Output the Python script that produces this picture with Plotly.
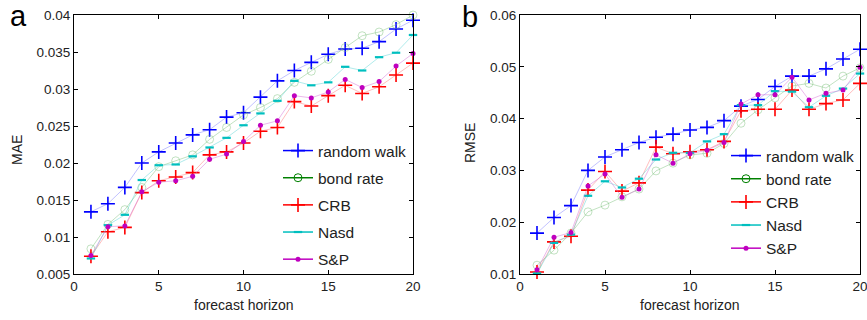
import plotly.graph_objects as go

horizon = list(range(1, 21))
series_names = ["random walk", "bond rate", "CRB", "Nasd", "S&P"]

mae_rw = [0.0134, 0.0145, 0.0167, 0.0200, 0.0215, 0.0227, 0.0238, 0.0245, 0.0262, 0.0268,
          0.0289, 0.0311, 0.0325, 0.0336, 0.0347, 0.0354, 0.0355, 0.0364, 0.0381, 0.0393]
mae_bond = [0.0084, 0.0117, 0.0137, 0.0167, 0.0195, 0.0203, 0.0211, 0.0232, 0.0248, 0.0265,
            0.0275, 0.0287, 0.0309, 0.0324, 0.0340, 0.0356, 0.0372, 0.0377, 0.0387, 0.0400]
mae_crb = [0.0074, 0.0107, 0.0113, 0.0160, 0.0176, 0.0181, 0.0187, 0.0211, 0.0215, 0.0227,
           0.0243, 0.0248, 0.0283, 0.0277, 0.0291, 0.0305, 0.0294, 0.0303, 0.0319, 0.0335]
mae_nasd = [0.0071, 0.0116, 0.0130, 0.0177, 0.0197, 0.0198, 0.0209, 0.0221, 0.0234, 0.0251,
            0.0267, 0.0284, 0.0311, 0.0305, 0.0309, 0.0330, 0.0325, 0.0343, 0.0349, 0.0373]
mae_sp = [0.0075, 0.0114, 0.0115, 0.0161, 0.0174, 0.0176, 0.0182, 0.0205, 0.0212, 0.0229,
          0.0251, 0.0257, 0.0291, 0.0288, 0.0296, 0.0313, 0.0302, 0.0310, 0.0331, 0.0348]

rmse_rw = [0.0179, 0.0209, 0.0232, 0.0300, 0.0326, 0.0340, 0.0354, 0.0364, 0.0370, 0.0378,
           0.0383, 0.0396, 0.0424, 0.0437, 0.0462, 0.0482, 0.0482, 0.0496, 0.0515, 0.0534]
rmse_bond = [0.0117, 0.0146, 0.0179, 0.0220, 0.0233, 0.0249, 0.0264, 0.0299, 0.0314, 0.0330,
             0.0333, 0.0352, 0.0391, 0.0417, 0.0440, 0.0463, 0.0468, 0.0459, 0.0482, 0.0498]
rmse_crb = [0.0104, 0.0162, 0.0173, 0.0262, 0.0298, 0.0260, 0.0276, 0.0345, 0.0332, 0.0336,
            0.0340, 0.0356, 0.0415, 0.0418, 0.0418, 0.0455, 0.0418, 0.0429, 0.0436, 0.0468]
rmse_nasd = [0.0101, 0.0160, 0.0176, 0.0251, 0.0279, 0.0267, 0.0284, 0.0321, 0.0334, 0.0334,
             0.0356, 0.0370, 0.0426, 0.0426, 0.0453, 0.0452, 0.0422, 0.0444, 0.0458, 0.0487]
rmse_sp = [0.0108, 0.0171, 0.0180, 0.0270, 0.0293, 0.0248, 0.0264, 0.0330, 0.0314, 0.0332,
           0.0339, 0.0354, 0.0428, 0.0446, 0.0446, 0.0480, 0.0436, 0.0449, 0.0455, 0.0499]

x_ticks = [0, 5, 10, 15, 20]
mae_ticks = [0.005, 0.01, 0.015, 0.02, 0.025, 0.03, 0.035, 0.04]
mae_ticktext = ["0.005", "0.01", "0.015", "0.02", "0.025", "0.03", "0.035", "0.04"]
rmse_ticks = [0.01, 0.02, 0.03, 0.04, 0.05, 0.06]
rmse_ticktext = ["0.01", "0.02", "0.03", "0.04", "0.05", "0.06"]

FONT = "Liberation Sans, Arial"

styles = [
    dict(line="rgba(120,120,255,0.45)", leg_line="rgb(0,0,255)",
         marker=dict(symbol="cross-thin", size=10, line=dict(color="rgb(0,0,255)", width=1.6))),
    dict(line="rgba(120,190,120,0.45)", leg_line="rgb(0,128,0)",
         marker=dict(symbol="circle-open", size=8, line=dict(color="rgba(120,190,120,0.8)", width=1))),
    dict(line="rgba(255,110,110,0.45)", leg_line="rgb(255,0,0)",
         marker=dict(symbol="cross-thin", size=10, line=dict(color="rgb(255,0,0)", width=1.6))),
    dict(line="rgba(80,210,210,0.45)", leg_line="rgb(0,191,191)",
         marker=dict(symbol="line-ew", size=6, line=dict(color="rgb(0,191,191)", width=2.2))),
    dict(line="rgba(210,100,210,0.45)", leg_line="rgb(191,0,191)",
         marker=dict(symbol="circle", size=5, color="rgb(191,0,191)", line=dict(width=0))),
]

fig = go.Figure()

panels = [
    ("x", "y", "legend", [mae_rw, mae_bond, mae_crb, mae_nasd, mae_sp]),
    ("x2", "y2", "legend2", [rmse_rw, rmse_bond, rmse_crb, rmse_nasd, rmse_sp]),
]

for xa, ya, leg, data in panels:
    for i, (name, vals) in enumerate(zip(series_names, data)):
        st = styles[i]
        fig.add_trace(go.Scatter(
            x=horizon, y=vals, mode="lines+markers", name=name,
            xaxis=xa, yaxis=ya, showlegend=False, cliponaxis=False,
            line=dict(color=st["line"], width=1),
            marker=st["marker"],
        ))
    for i, name in enumerate(series_names):
        st = styles[i]
        fig.add_trace(go.Scatter(
            x=[None], y=[None], mode="lines+markers", name=name,
            xaxis=xa, yaxis=ya, legend=leg, legendgroup=leg + str(i),
            line=dict(color=st["leg_line"], width=1.5),
            marker=st["marker"],
        ))

axis_common = dict(
    showgrid=False, zeroline=False, showline=True, linecolor="black", linewidth=1,
    mirror="ticks", ticks="inside", ticklen=4, tickcolor="black",
    tickfont=dict(family=FONT, size=13.5, color="#222"),
    automargin=False, ticklabeloverflow="allow",
)
title_font = dict(family=FONT, size=14, color="#222")


def ann(text, x, y, **kw):
    return dict(text=text, x=x / 867, y=1 - y / 320, xref="paper", yref="paper",
                showarrow=False, xanchor="center", yanchor="middle", **kw)


fig.update_layout(
    width=867, height=320,
    margin=dict(l=0, r=0, t=0, b=0),
    paper_bgcolor="white", plot_bgcolor="white",
    xaxis=dict(domain=[74 / 867, 413 / 867], range=[0, 20], tickvals=x_ticks, **axis_common),
    yaxis=dict(domain=[46 / 320, 305 / 320], range=[0.005, 0.04], tickvals=mae_ticks,
               ticktext=mae_ticktext, **axis_common),
    xaxis2=dict(domain=[520 / 867, 860 / 867], range=[0, 20], tickvals=x_ticks, anchor="y2",
                **axis_common),
    yaxis2=dict(domain=[46 / 320, 305 / 320], range=[0.01, 0.06], tickvals=rmse_ticks,
                ticktext=rmse_ticktext, anchor="x2", **axis_common),
    legend=dict(x=278 / 867, y=1 - 134 / 320, xanchor="left", yanchor="top",
                bgcolor="rgba(0,0,0,0)", tracegroupgap=4,
                font=dict(family=FONT, size=15.5, color="#222")),
    legend2=dict(x=726 / 867, y=1 - 139 / 320, xanchor="left", yanchor="top",
                 bgcolor="rgba(0,0,0,0)", tracegroupgap=0,
                 font=dict(family=FONT, size=15.5, color="#222")),
    annotations=[
        ann("a", 18, 16, font=dict(family=FONT, size=29, color="black")),
        ann("b", 470, 17, font=dict(family=FONT, size=29, color="black")),
        ann("MAE", 17, 150, textangle=-90, font=title_font),
        ann("RMSE", 470, 143, textangle=-90, font=title_font),
        ann("forecast horizon", 243.5, 305, font=title_font),
        ann("forecast horizon", 690, 305, font=title_font),
    ],
)

fig.write_html("out.html")
